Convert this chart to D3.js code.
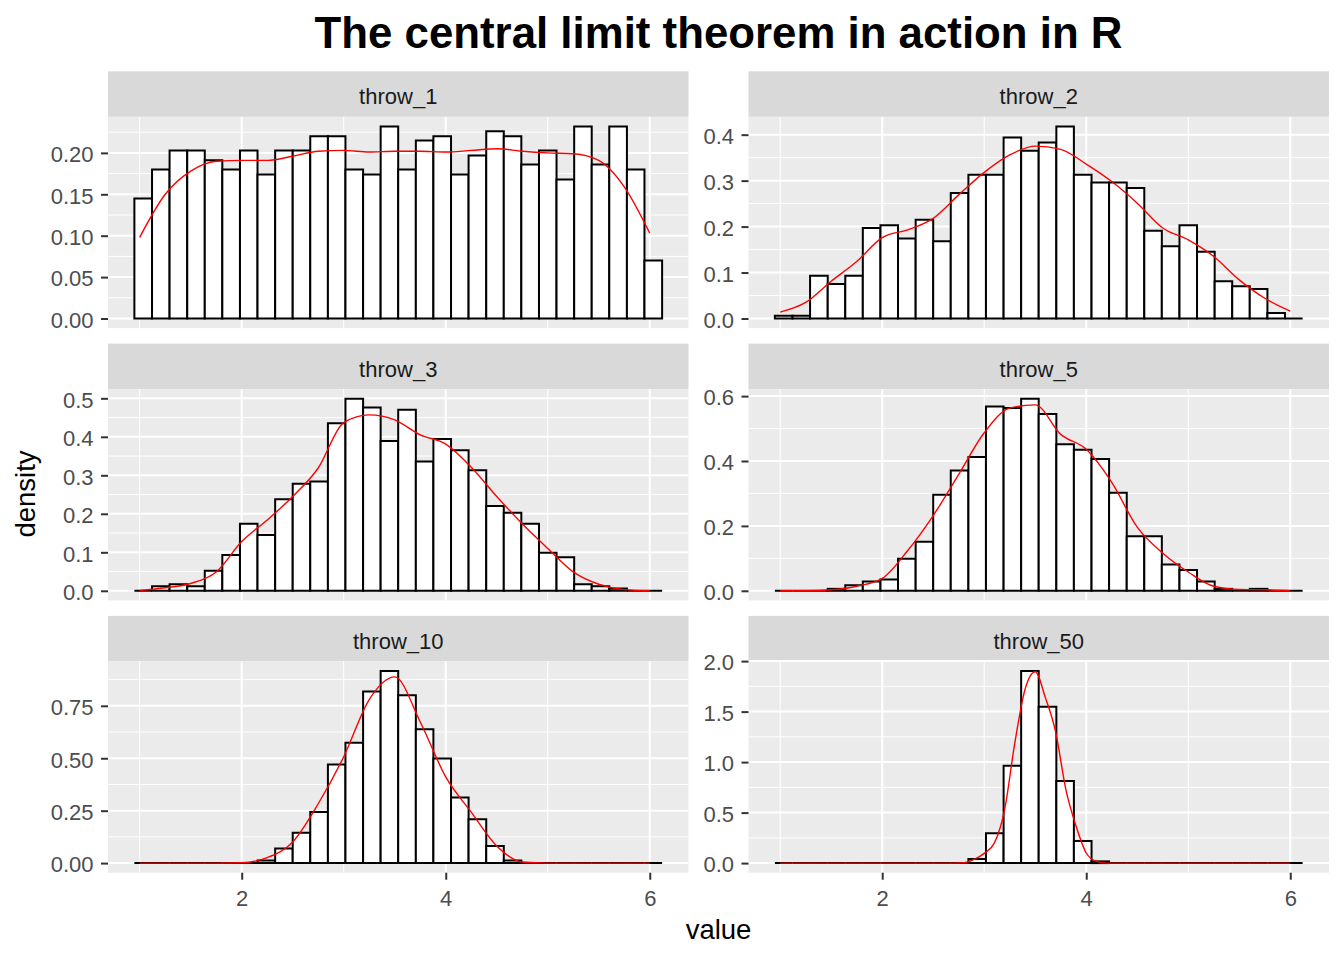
<!DOCTYPE html>
<html>
<head>
<meta charset="utf-8">
<script src="https://cdn.jsdelivr.net/npm/d3@7"></script>
<style>
body{margin:0;background:#fff;}
svg{display:block;font-family:"Liberation Sans",Arial,sans-serif;}
</style>
</head>
<body>
<div id="plot"></div>
<script>

//facet names, in the order ggplot wraps them
var facets = ['throw_1','throw_2','throw_3','throw_5','throw_10','throw_50'];

//shared histogram bins (30 bins)
var binEdges = [0.948,1.121,1.293,1.466,1.638,1.810,1.983,2.155,2.328,2.500,2.672,2.845,3.017,3.190,3.362,
	3.534,3.707,3.879,4.052,4.224,4.397,4.569,4.741,4.914,5.086,5.259,5.431,5.603,5.776,5.948,6.121];

//bar heights (density)
var throw1 = [0.145,0.180,0.203,0.203,0.191,0.180,0.203,0.174,0.203,0.203,0.220,0.220,0.180,0.174,0.232,
	0.180,0.215,0.220,0.174,0.197,0.226,0.220,0.186,0.203,0.168,0.232,0.186,0.232,0.180,0.070];
var throw2 = [0.006,0.006,0.093,0.075,0.093,0.197,0.203,0.174,0.215,0.168,0.273,0.313,0.313,0.394,0.365,
	0.383,0.418,0.313,0.296,0.296,0.284,0.191,0.157,0.203,0.145,0.081,0.070,0.064,0.012,0];
var throw3 = [0,0.012,0.017,0.012,0.052,0.093,0.174,0.145,0.238,0.278,0.284,0.435,0.499,0.476,0.389,
	0.470,0.336,0.394,0.365,0.313,0.220,0.203,0.174,0.099,0.087,0.017,0.012,0.006,0,0];
var throw5 = [0,0,0,0.006,0.017,0.029,0.035,0.099,0.151,0.296,0.371,0.412,0.568,0.563,0.592,
	0.545,0.452,0.435,0.406,0.302,0.168,0.168,0.081,0.064,0.029,0.006,0,0.006,0,0];
var throw10 = [0,0,0,0,0,0,0,0.012,0.070,0.145,0.244,0.470,0.574,0.818,0.916,
	0.800,0.638,0.499,0.313,0.209,0.081,0.012,0,0,0,0,0,0,0,0];
var throw50 = [0,0,0,0,0,0,0,0,0,0,0,0.041,0.296,0.963,1.902,
	1.549,0.812,0.220,0.017,0,0,0,0,0,0,0,0,0,0,0];

//red density curves
var densX = [1,1.25,1.5,1.75,2,2.25,2.5,2.75,3,3.25,3.5,3.75,4,4.25,4.5,4.75,5,5.25,5.5,5.75,6];
var dens1 = [0.098,0.150,0.178,0.190,0.191,0.191,0.196,0.202,0.203,0.201,0.202,0.202,0.201,0.203,0.205,0.202,0.200,0.199,0.191,0.159,0.103];
var dens2 = [0.014,0.035,0.081,0.124,0.176,0.193,0.218,0.269,0.318,0.356,0.375,0.368,0.336,0.298,0.251,0.197,0.171,0.135,0.084,0.044,0.016];
var dens3 = [0.001,0.008,0.019,0.049,0.128,0.184,0.245,0.319,0.437,0.457,0.444,0.405,0.381,0.321,0.245,0.174,0.110,0.049,0.017,0.003,0];
var dens5 = [0,0,0.003,0.014,0.038,0.124,0.232,0.359,0.487,0.563,0.573,0.482,0.436,0.334,0.196,0.116,0.058,0.014,0.004,0.003,0];
var dens10 = [0,0,0,0,0.002,0.026,0.101,0.283,0.507,0.780,0.888,0.673,0.411,0.243,0.082,0.005,0,0,0,0,0];
var densX50 = [1,2.7,2.8,2.9,3,3.1,3.2,3.3,3.4,3.5,3.6,3.7,3.8,3.9,4,4.1,4.2,4.3,6];
var dens50 = [0,0,0.003,0.036,0.096,0.20,0.53,1.19,1.72,1.894,1.636,1.30,0.73,0.367,0.10,0.017,0,0,0];

//tick labels
var xTicks = ['2','4','6'];
var xMinor = [1,3,5];
var yTicks1 = ['0.00','0.05','0.10','0.15','0.20'];
var yTicks2 = ['0.0','0.1','0.2','0.3','0.4'];
var yTicks3 = ['0.0','0.1','0.2','0.3','0.4','0.5'];
var yTicks5 = ['0.0','0.2','0.4','0.6'];
var yTicks10 = ['0.00','0.25','0.50','0.75'];
var yTicks50 = ['0.0','0.5','1.0','1.5','2.0'];

var bars = [throw1,throw2,throw3,throw5,throw10,throw50];
var densXs = [densX,densX,densX,densX,densX,densX50];
var densYs = [dens1,dens2,dens3,dens5,dens10,dens50];
var yTicks = [yTicks1,yTicks2,yTicks3,yTicks5,yTicks10,yTicks50];

//layout
var W = 1344, H = 960;
var colX = [108,748.5], panelW = 580.5;
var rowY = [71.3,343.6,615.9], stripH = 45.5, panelH = 211.3;

var svg = d3.select('#plot')
	.append('svg')
	.attr('width',W)
	.attr('height',H);

//shared x scale, padded 5% like ggplot
var binSpan = binEdges[binEdges.length-1]-binEdges[0];
var x = d3.scaleLinear()
	.domain([binEdges[0]-0.05*binSpan, binEdges[binEdges.length-1]+0.05*binSpan])
	.range([0,panelW]);
var xTickVals = xTicks.map(function(d){return +d;});

facets.forEach(function(name,i){
	var col = i%2, row = Math.floor(i/2);
	var px = colX[col], py = rowY[row]+stripH;

	//strip
	svg.append('rect')
		.attr('x',px).attr('y',rowY[row])
		.attr('width',panelW).attr('height',stripH)
		.style('fill','#D9D9D9');
	svg.append('text')
		.attr('x',px+panelW/2).attr('y',rowY[row]+33)
		.attr('text-anchor','middle')
		.style('font-size','22px')
		.style('fill','#1A1A1A')
		.text(name);

	var vals = bars[i], dx = densXs[i], dy = densYs[i];
	var yMax = d3.max(vals.concat(dy));
	var y = d3.scaleLinear()
		.domain([-0.05*yMax,1.05*yMax])
		.range([panelH,0]);

	var tickVals = yTicks[i].map(function(d){return +d;});
	//minor breaks half way between majors
	var step = tickVals[1]-tickVals[0];
	var minor = [];
	for(var k=-1;k<tickVals.length;k++){
		var m = tickVals[0]+(k+0.5)*step;
		if(m>y.domain()[0] && m<y.domain()[1]) minor.push(m);
	}

	var panel = svg.append('g')
		.attr('transform','translate('+px+','+py+')');

	panel.append('rect')
		.attr('width',panelW).attr('height',panelH)
		.style('fill','#EBEBEB');

	//grid
	panel.selectAll('.ymin').data(minor).enter().append('line')
		.attr('x1',0).attr('x2',panelW)
		.attr('y1',function(d){return y(d);}).attr('y2',function(d){return y(d);})
		.style('stroke','#fff').style('stroke-width',1);
	panel.selectAll('.xmin').data(xMinor).enter().append('line')
		.attr('y1',0).attr('y2',panelH)
		.attr('x1',function(d){return x(d);}).attr('x2',function(d){return x(d);})
		.style('stroke','#fff').style('stroke-width',1);
	panel.selectAll('.ymaj').data(tickVals).enter().append('line')
		.attr('x1',0).attr('x2',panelW)
		.attr('y1',function(d){return y(d);}).attr('y2',function(d){return y(d);})
		.style('stroke','#fff').style('stroke-width',2);
	panel.selectAll('.xmaj').data(xTickVals).enter().append('line')
		.attr('y1',0).attr('y2',panelH)
		.attr('x1',function(d){return x(d);}).attr('x2',function(d){return x(d);})
		.style('stroke','#fff').style('stroke-width',2);

	//histogram bars (paths so empty bins still show their outline)
	panel.selectAll('.bar').data(vals).enter().append('path')
		.attr('d',function(d,j){
			var x0 = x(binEdges[j]), x1 = x(binEdges[j+1]);
			return 'M'+x0+','+y(0)+'V'+y(d)+'H'+x1+'V'+y(0)+'Z';
		})
		.style('fill','#fff')
		.style('stroke','#000')
		.style('stroke-width',2)
		.style('stroke-linejoin','miter');

	//density line
	var line = d3.line()
		.x(function(d){return x(d[0]);})
		.y(function(d){return y(d[1]);})
		.curve(d3.curveMonotoneX);
	panel.append('path')
		.attr('d',line(dx.map(function(v,j){return [v,dy[j]];})))
		.style('fill','none')
		.style('stroke','#FF0000')
		.style('stroke-width',1.4);

	//y axis
	var ya = panel.append('g')
		.call(d3.axisLeft(y)
			.tickValues(tickVals)
			.tickFormat(function(d,j){return yTicks[i][j];})
			.tickSize(7)
			.tickPadding(7.5));
	ya.select('.domain').remove();
	ya.attr('font-family',null).attr('font-size',null);
	ya.selectAll('line').attr('stroke','#333333').attr('stroke-width',2);
	ya.selectAll('text')
		.attr('fill','#4D4D4D')
		.attr('dy','0.4em')
		.style('font-size','22px');

	//x axis on the bottom row only
	if(row==2){
		var xa = panel.append('g')
			.attr('transform','translate(0,'+panelH+')')
			.call(d3.axisBottom(x)
				.tickValues(xTickVals)
				.tickFormat(function(d,j){return xTicks[j];})
				.tickSize(7)
				.tickPadding(11));
		xa.select('.domain').remove();
		xa.attr('font-family',null).attr('font-size',null);
		xa.selectAll('line').attr('stroke','#333333').attr('stroke-width',2);
		xa.selectAll('text')
			.attr('fill','#4D4D4D')
			.style('font-size','22px');
	}
});

//titles
var midX = (colX[0]+colX[1]+panelW)/2;
svg.append('text')
	.attr('x',midX).attr('y',48)
	.attr('text-anchor','middle')
	.style('font-size','43.8px')
	.style('font-weight','bold')
	.style('fill','#000')
	.text('The central limit theorem in action in R');

svg.append('text')
	.attr('x',midX).attr('y',939)
	.attr('text-anchor','middle')
	.style('font-size','27.5px')
	.style('fill','#000')
	.text('value');

svg.append('text')
	.attr('transform','translate(35,494) rotate(-90)')
	.attr('text-anchor','middle')
	.style('font-size','27.5px')
	.style('fill','#000')
	.text('density');

</script>
</body>
</html>
